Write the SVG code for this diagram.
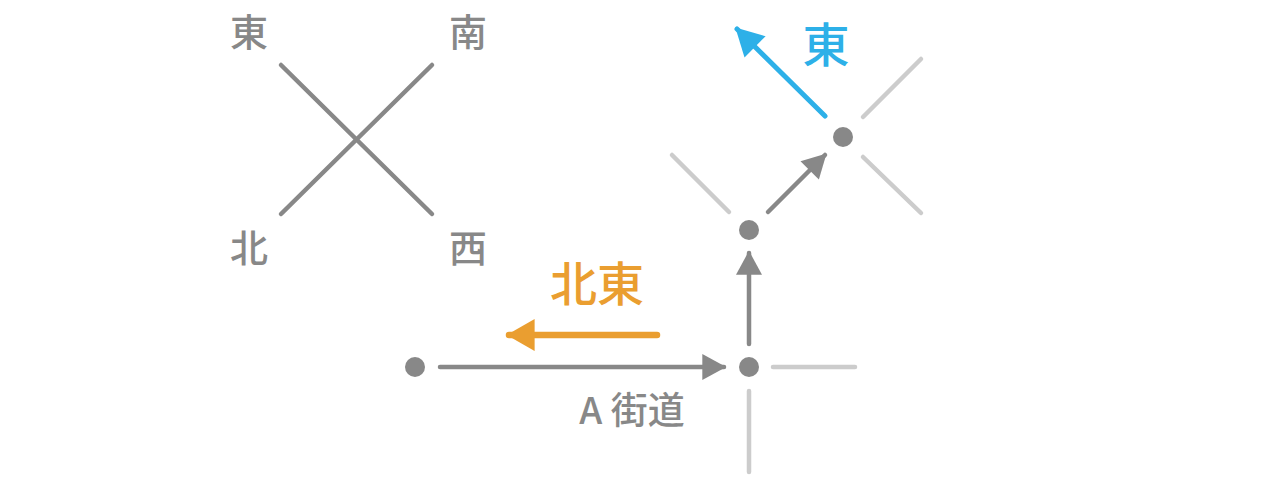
<svg xmlns="http://www.w3.org/2000/svg" width="1274" height="494" viewBox="0 0 1274 494">
<style>
.t{font-family:"Noto Sans CJK JP","Noto Sans",sans-serif;text-anchor:middle;dominant-baseline:central}
.g{fill:#888}
.road{stroke:#888;stroke-width:4.5;stroke-linecap:round;fill:none}
.faint{stroke:#ccc;stroke-width:4.5;stroke-linecap:round;fill:none}
.dot{fill:#888}
</style>
<defs>
<marker id="ag" markerUnits="userSpaceOnUse" markerWidth="26" markerHeight="26" viewBox="0 0 22 24" refX="20" refY="12" orient="auto"><path d="M0,0 L22,12 L0,24 Z" fill="#888"/></marker>
<marker id="ab" markerUnits="userSpaceOnUse" markerWidth="30" markerHeight="30" viewBox="0 0 24 26" refX="22" refY="13" orient="auto"><path d="M0,0 L24,13 L0,26 Z" fill="#2db0e8"/></marker>
<marker id="ao" markerUnits="userSpaceOnUse" markerWidth="30" markerHeight="32" viewBox="0 0 26 30" refX="24" refY="15" orient="auto"><path d="M0,0 L26,15 L0,30 Z" fill="#ea9e30"/></marker>
</defs>
<g id="compass">
<line class="road" x1="281" y1="65" x2="432" y2="214"/>
<line class="road" x1="432" y1="65" x2="281" y2="214"/>
<text class="t g" x="249" y="29" font-size="38" font-weight="500">東</text>
<text class="t g" x="468" y="29" font-size="38" font-weight="500">南</text>
<text class="t g" x="249" y="245" font-size="38" font-weight="500">北</text>
<text class="t g" x="468" y="245" font-size="38" font-weight="500">西</text>
</g>
<g id="faint-roads">
<line class="faint" x1="672" y1="155" x2="729" y2="212"/>
<line class="faint" x1="863" y1="117" x2="921" y2="59"/>
<line class="faint" x1="863" y1="157" x2="921" y2="213"/>
<line class="faint" x1="773" y1="367" x2="855" y2="367"/>
<line class="faint" x1="749" y1="391" x2="749" y2="472"/>
</g>
<g id="node-start"><circle class="dot" cx="415" cy="367" r="10"/></g>
<g id="node-junction"><circle class="dot" cx="749" cy="367" r="10"/></g>
<g id="node-mid"><circle class="dot" cx="749" cy="230" r="10"/></g>
<g id="node-top"><circle class="dot" cx="843" cy="137" r="10"/></g>
<g id="connectors">
<line class="road" x1="440" y1="367" x2="724" y2="367" marker-end="url(#ag)"/>
<line class="road" x1="749" y1="344" x2="749" y2="253" marker-end="url(#ag)"/>
<line class="road" x1="768" y1="212" x2="825" y2="155" marker-end="url(#ag)"/>
<line x1="825" y1="116" x2="737" y2="29" stroke="#2db0e8" stroke-width="5" stroke-linecap="round" marker-end="url(#ab)"/>
<line x1="657" y1="335" x2="509" y2="335" stroke="#ea9e30" stroke-width="6.5" stroke-linecap="round" marker-end="url(#ao)"/>
</g>
<g id="labels">
<text class="t" x="826" y="41" font-size="47" font-weight="500" fill="#2db0e8">東</text>
<text class="t" x="597" y="280" font-size="47" font-weight="500" fill="#ea9e30">北東</text>
<text class="t g" x="632" y="408" font-size="37" font-weight="500">A 街道</text>
</g>
</svg>
